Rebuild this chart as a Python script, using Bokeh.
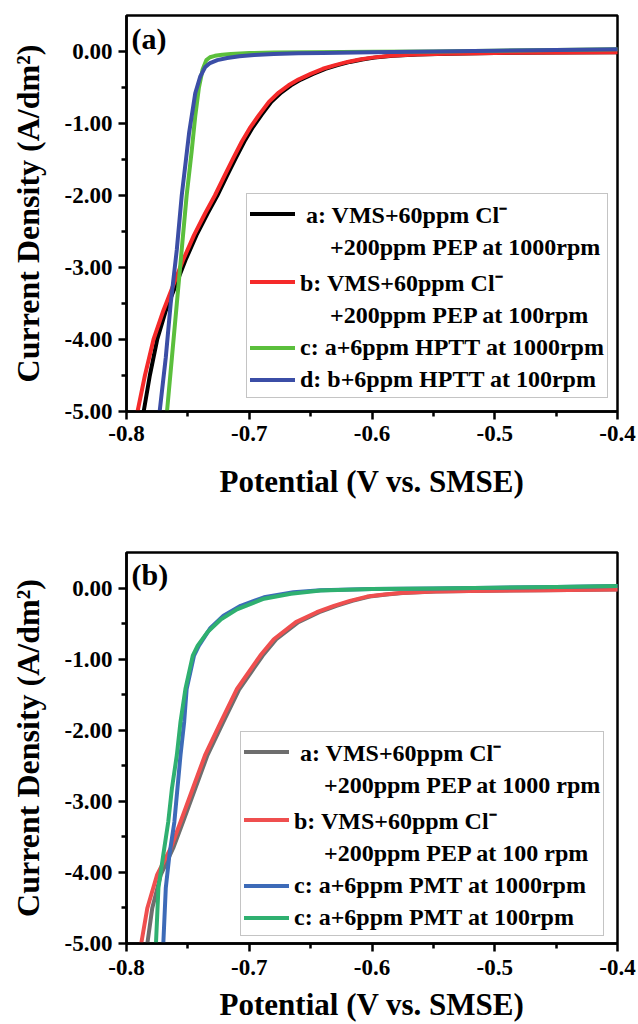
from bokeh.plotting import figure
from bokeh.models import FixedTicker, Legend, LegendItem, Label
from bokeh.layouts import column
from bokeh.embed import file_html
from bokeh.resources import INLINE

# ---------------- data ----------------
x_ticks = [-0.8, -0.7, -0.6, -0.5, -0.4]
x_tick_labels = ["-0.8", "-0.7", "-0.6", "-0.5", "-0.4"]
x_minor = [-0.75, -0.65, -0.55, -0.45]
y_ticks = [-5, -4, -3, -2, -1, 0]
y_tick_labels = ["-5.00", "-4.00", "-3.00", "-2.00", "-1.00", "0.00"]
y_minor = [-4.5, -3.5, -2.5, -1.5, -0.5]

# panel (a)
a_black_x = [-0.786, -0.781, -0.775, -0.768, -0.760, -0.752, -0.743, -0.734, -0.726, -0.718, -0.711, -0.704, -0.697, -0.690, -0.682, -0.674, -0.666, -0.658, -0.648, -0.638, -0.628, -0.618, -0.608, -0.598, -0.583, -0.563, -0.538, -0.500, -0.450, -0.400]
a_black_y = [-5.0, -4.5, -4.0, -3.6, -3.25, -2.9, -2.55, -2.25, -2.0, -1.72, -1.48, -1.25, -1.05, -0.88, -0.70, -0.57, -0.47, -0.39, -0.31, -0.24, -0.19, -0.145, -0.11, -0.085, -0.06, -0.04, -0.03, -0.02, -0.015, -0.01]
a_red_x = [-0.791, -0.785, -0.778, -0.770, -0.762, -0.754, -0.745, -0.736, -0.728, -0.720, -0.713, -0.706, -0.699, -0.692, -0.684, -0.676, -0.668, -0.660, -0.650, -0.640, -0.630, -0.620, -0.610, -0.600, -0.585, -0.565, -0.540, -0.500, -0.450, -0.400]
a_red_y = [-5.0, -4.5, -4.0, -3.6, -3.25, -2.9, -2.55, -2.25, -2.0, -1.72, -1.48, -1.25, -1.05, -0.88, -0.70, -0.57, -0.47, -0.39, -0.31, -0.24, -0.19, -0.145, -0.11, -0.085, -0.06, -0.04, -0.03, -0.02, -0.015, -0.01]
a_green_x = [-0.767, -0.763, -0.759, -0.755, -0.751, -0.747, -0.744, -0.741, -0.738, -0.735, -0.732, -0.728, -0.722, -0.715, -0.700, -0.680, -0.650, -0.600, -0.550, -0.500, -0.450, -0.400]
a_green_y = [-5.0, -4.25, -3.5, -2.75, -2.0, -1.4, -0.9, -0.5, -0.25, -0.12, -0.08, -0.06, -0.045, -0.035, -0.022, -0.015, -0.01, -0.005, 0.0, 0.01, 0.02, 0.03]
a_blue_x = [-0.773, -0.768, -0.764, -0.759, -0.755, -0.749, -0.744, -0.740, -0.736, -0.732, -0.726, -0.718, -0.708, -0.696, -0.680, -0.660, -0.640, -0.600, -0.550, -0.500, -0.450, -0.400]
a_blue_y = [-5.0, -4.25, -3.5, -2.75, -2.0, -1.13, -0.58, -0.35, -0.22, -0.16, -0.12, -0.09, -0.065, -0.05, -0.035, -0.025, -0.02, -0.01, 0.0, 0.01, 0.02, 0.03]

# panel (b)
b_grey_x = [-0.783, -0.779, -0.772, -0.762, -0.754, -0.744, -0.734, -0.721, -0.708, -0.689, -0.678, -0.660, -0.643, -0.629, -0.616, -0.602, -0.588, -0.575, -0.548, -0.520, -0.460, -0.400]
b_grey_y = [-5.0, -4.5, -4.03, -3.66, -3.29, -2.82, -2.35, -1.88, -1.42, -0.95, -0.72, -0.48, -0.34, -0.25, -0.18, -0.12, -0.09, -0.07, -0.05, -0.04, -0.03, -0.02]
b_red_x = [-0.788, -0.783, -0.775, -0.764, -0.756, -0.746, -0.736, -0.723, -0.710, -0.691, -0.680, -0.662, -0.645, -0.631, -0.618, -0.604, -0.590, -0.577, -0.550, -0.522, -0.460, -0.400]
b_red_y = [-5.0, -4.5, -4.03, -3.66, -3.29, -2.82, -2.35, -1.88, -1.42, -0.95, -0.72, -0.48, -0.34, -0.25, -0.18, -0.12, -0.09, -0.07, -0.05, -0.04, -0.03, -0.02]
b_blue_x = [-0.770, -0.768, -0.765, -0.761, -0.756, -0.753, -0.751, -0.745, -0.741, -0.732, -0.721, -0.707, -0.688, -0.664, -0.642, -0.600, -0.550, -0.500, -0.450, -0.400]
b_blue_y = [-5.0, -4.22, -3.75, -3.29, -2.35, -1.88, -1.42, -0.95, -0.81, -0.57, -0.39, -0.25, -0.13, -0.06, -0.03, -0.015, -0.005, 0.005, 0.015, 0.03]
b_green_x = [-0.776, -0.774, -0.770, -0.766, -0.763, -0.759, -0.756, -0.752, -0.746, -0.742, -0.734, -0.723, -0.710, -0.688, -0.666, -0.642, -0.600, -0.550, -0.500, -0.450, -0.400]
b_green_y = [-5.0, -4.22, -3.75, -3.29, -2.82, -2.35, -1.88, -1.42, -0.95, -0.81, -0.62, -0.44, -0.30, -0.15, -0.08, -0.035, -0.015, -0.005, 0.005, 0.015, 0.03]

NB = "\u00a0"
a_labels = [
    [NB + "a: VMS+60ppm Cl\u207b", NB * 5 + "+200ppm PEP at 1000rpm"],
    ["b: VMS+60ppm Cl\u207b", NB * 5 + "+200ppm PEP at 100rpm"],
    ["c: a+6ppm HPTT at 1000rpm"],
    ["d: b+6ppm HPTT at 100rpm"],
]
b_labels = [
    [NB + "a: VMS+60ppm Cl\u207b", NB * 5 + "+200ppm PEP at 1000 rpm"],
    ["b: VMS+60ppm Cl\u207b", NB * 5 + "+200ppm PEP at 100 rpm"],
    ["c: a+6ppm PMT at 1000rpm"],
    ["c: a+6ppm PMT at 100rpm"],
]
a_colors = ["#000000", "#f52a2a", "#5bbf3c", "#3b4ea6"]
b_colors = ["#6e6e6e", "#ef4f4f", "#3d6bb8", "#2fb070"]

FONT = "Liberation Serif"


def make_panel(height, top, bottom, series, colors, labels, tag, legend_loc,
               xl_standoff, xt_standoff, frame_h):
    p = figure(width=638, height=height, x_range=(-0.8, -0.4), y_range=(-5.0, 0.5),
               output_backend="svg", toolbar_location=None,
               min_border_left=126, min_border_right=21,
               min_border_top=top, min_border_bottom=bottom)
    p.background_fill_color = "white"
    p.border_fill_color = "white"
    p.outline_line_color = "black"
    p.outline_line_width = 2.5
    p.xgrid.visible = False
    p.ygrid.visible = False

    p.xaxis.ticker = FixedTicker(ticks=x_ticks, minor_ticks=x_minor)
    p.xaxis.major_label_overrides = dict(zip(x_ticks, x_tick_labels))
    p.yaxis.ticker = FixedTicker(ticks=y_ticks, minor_ticks=y_minor)
    p.yaxis.major_label_overrides = dict(zip(y_ticks, y_tick_labels))
    for ax in (p.xaxis[0], p.yaxis[0]):
        ax.axis_line_width = 2.5
        ax.major_tick_line_width = 2.5
        ax.minor_tick_line_width = 2.5
        ax.major_tick_out = 8
        ax.major_tick_in = 0
        ax.minor_tick_out = 5
        ax.minor_tick_in = 0
        ax.major_label_text_font = FONT
        ax.major_label_text_font_style = "bold"
        ax.major_label_text_font_size = "23px"
        ax.major_label_text_color = "black"
        ax.axis_label_text_font = FONT
        ax.axis_label_text_font_style = "bold"
        ax.axis_label_text_color = "black"
    p.xaxis.axis_label_text_font_size = "31px"
    p.yaxis.axis_label_text_font_size = "32px"
    p.xaxis.axis_label = "Potential (V vs. SMSE)"
    p.yaxis.axis_label = "Current Density (A/dm\u00b2)"
    p.xaxis.major_label_standoff = xt_standoff
    p.xaxis.axis_label_standoff = xl_standoff
    p.yaxis.major_label_standoff = 6
    p.yaxis.axis_label_standoff = 16

    items = []
    for (xs, ys), c, lab in zip(series, colors, labels):
        r = p.line(xs, ys, line_color=c, line_width=4, line_join="round", line_cap="round")
        items.append(LegendItem(label=lab[0], renderers=[r]))
        for extra in lab[1:]:
            items.append(LegendItem(label=extra, renderers=[]))

    leg = Legend(items=items, location=legend_loc, margin=0, padding=3, spacing=3,
                 glyph_width=45, glyph_height=29, label_standoff=5, label_height=29,
                 label_text_font=FONT, label_text_font_style="bold",
                 label_text_font_size="24px", label_text_color="black",
                 border_line_color="#8a8a8a", border_line_width=1.5,
                 background_fill_color="white", background_fill_alpha=1.0)
    p.add_layout(leg)

    p.add_layout(Label(x=5, y=frame_h - 6, x_units="screen", y_units="screen", text=tag,
                       text_font=FONT, text_font_style="bold", text_font_size="30px",
                       text_color="black", text_baseline="top"))
    return p


pa = make_panel(505, 15, 94,
                [(a_black_x, a_black_y), (a_red_x, a_red_y), (a_green_x, a_green_y), (a_blue_x, a_blue_y)],
                a_colors, a_labels, "(a)", (120, 13), 20, 6, 396)
pb = make_panel(519, 47, 80,
                [(b_grey_x, b_grey_y), (b_red_x, b_red_y), (b_blue_x, b_blue_y), (b_green_x, b_green_y)],
                b_colors, b_labels, "(b)", (114, 7), 9, 8, 392)

layout = column(pa, pb, spacing=0)
open("out.html", "w").write(file_html(layout, INLINE))
